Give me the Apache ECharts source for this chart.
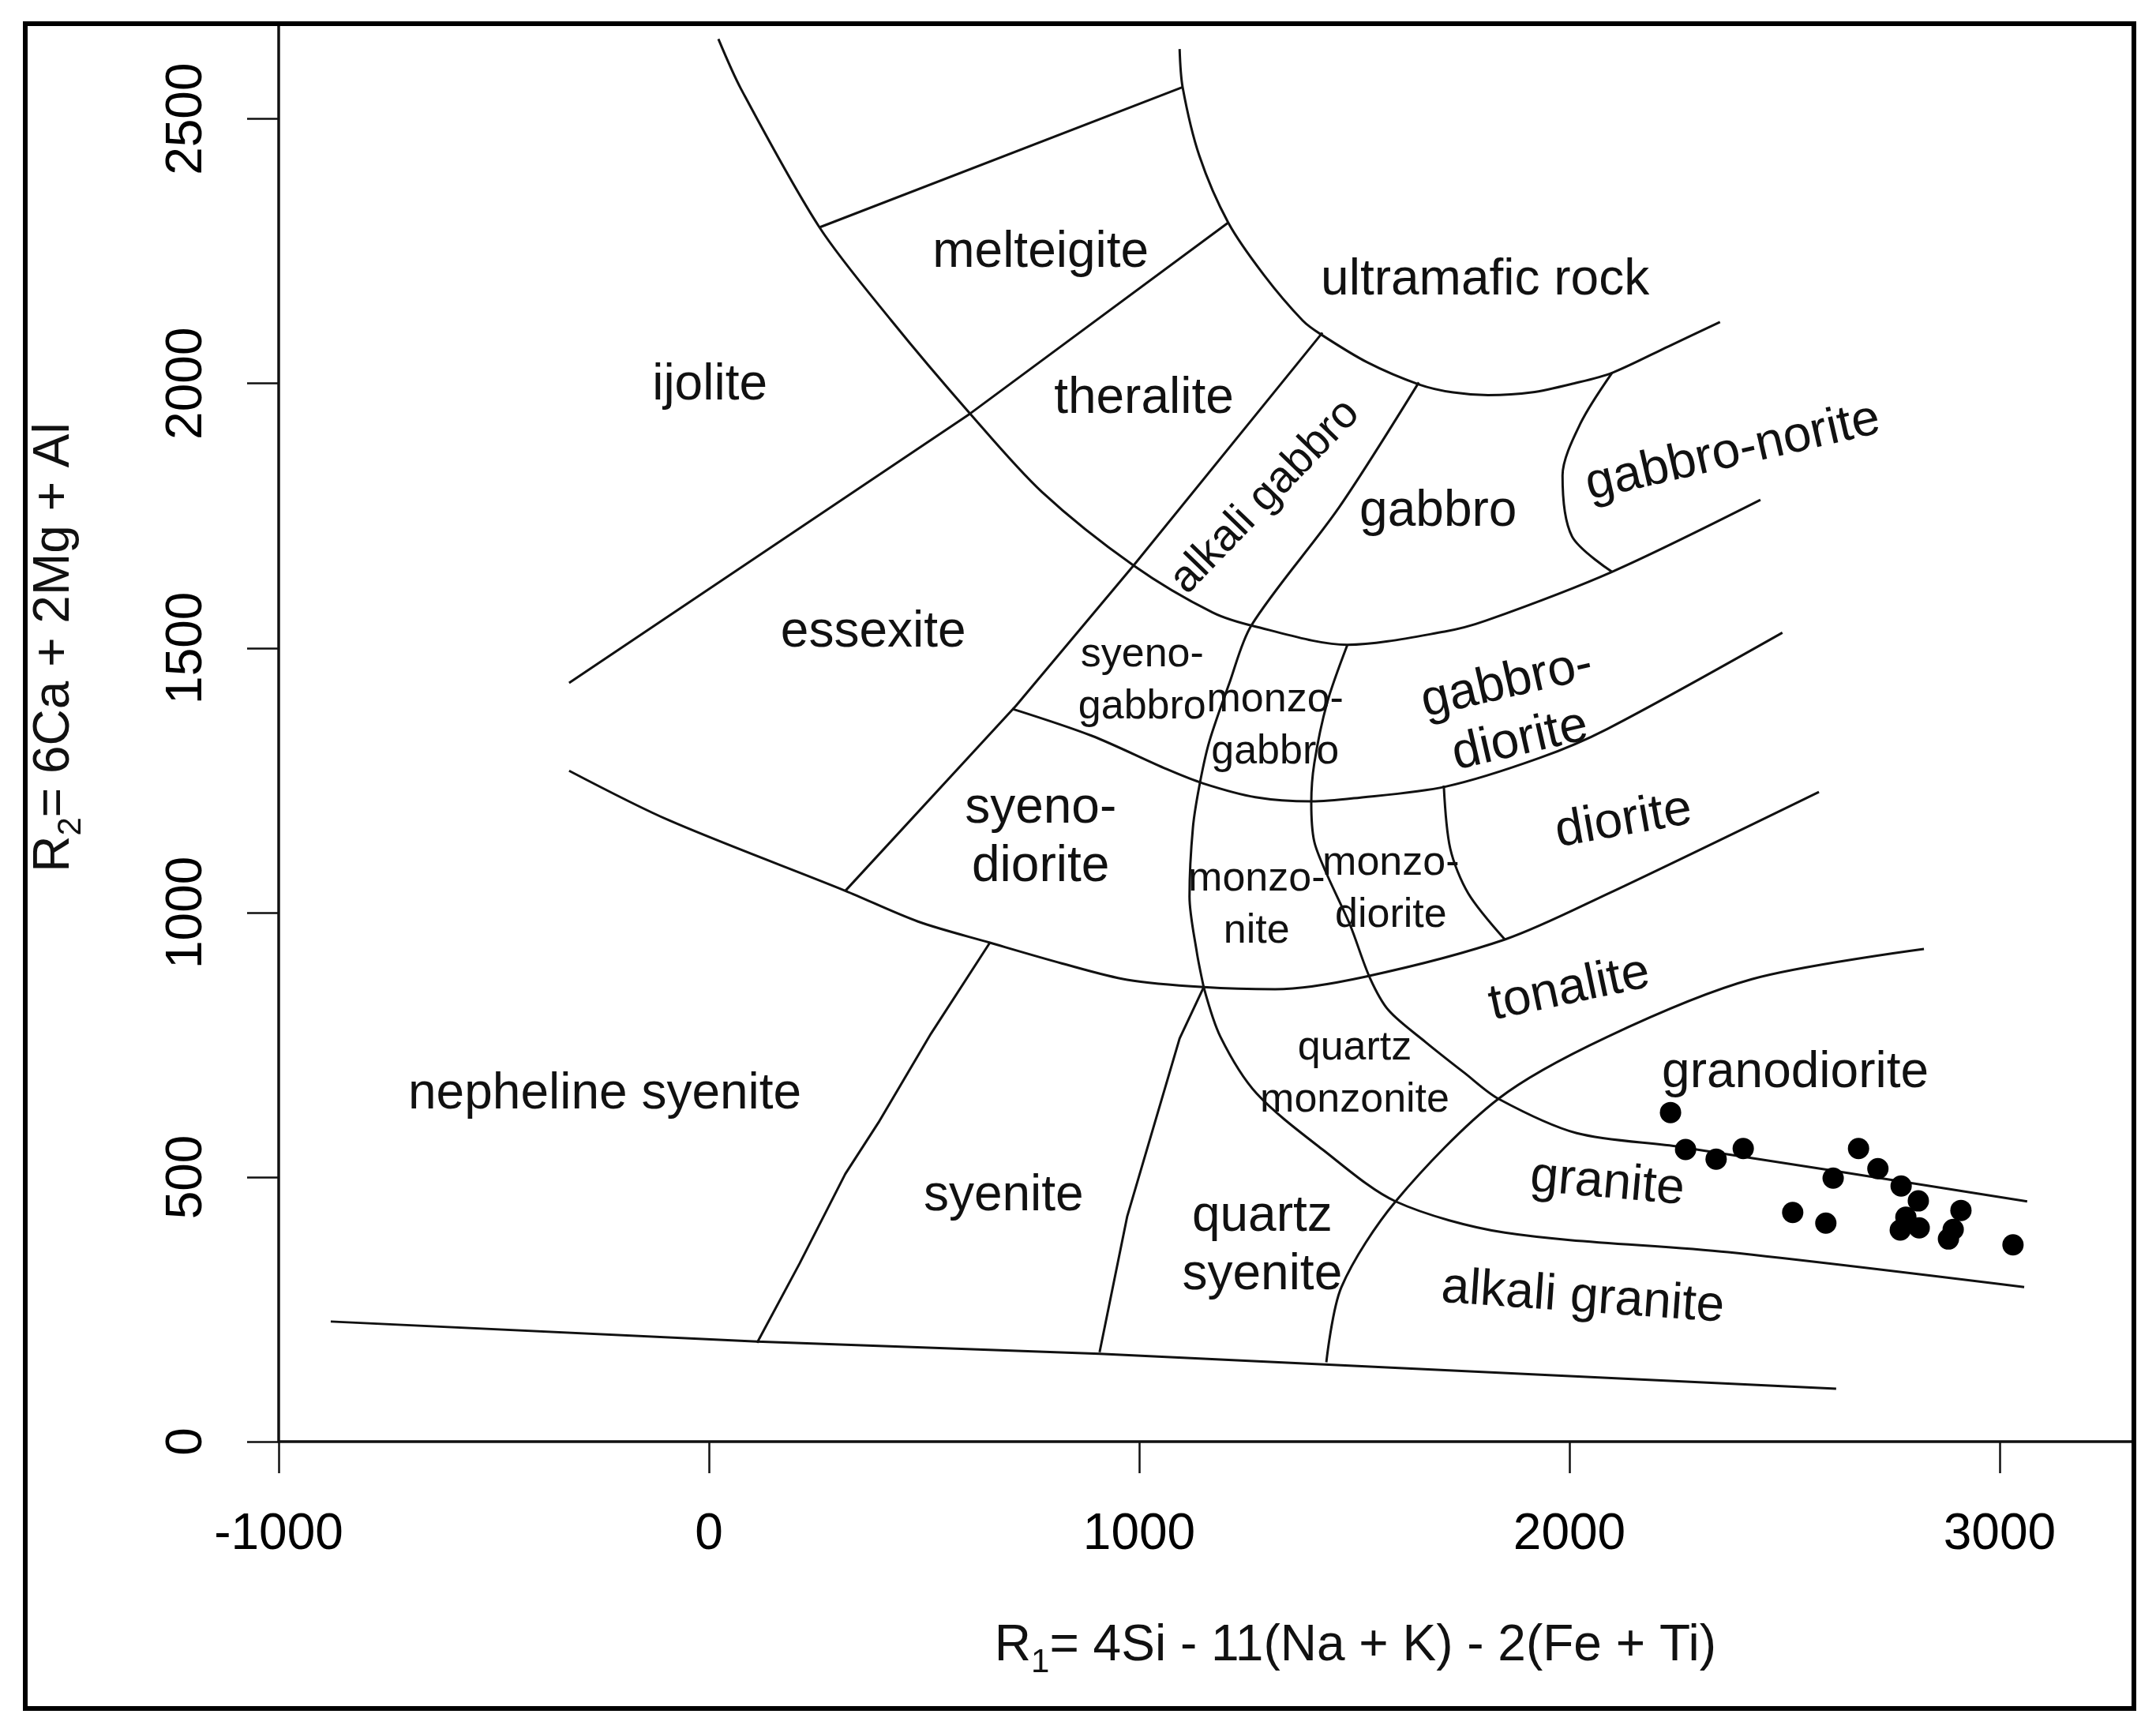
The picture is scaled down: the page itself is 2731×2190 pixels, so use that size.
<!DOCTYPE html>
<html>
<head>
<meta charset="utf-8">
<script src="https://cdn.jsdelivr.net/npm/echarts@6/dist/echarts.min.js"></script>
<style>
  html, body { margin: 0; padding: 0; background: #fff; }
  #chart { width: 2731px; height: 2190px; }
</style>
</head>
<body>
<div id="chart"></div>
<script>
const xTicks = [-1000, 0, 1000, 2000, 3000]
const yTicks = [0, 500, 1000, 1500, 2000, 2500]

// field boundaries as [R1, R2]
const ultramaficArc = [[1094, 2632], [1101, 2560], [1140, 2430], [1207, 2304], [1290, 2205], [1380, 2119], [1422, 2093], [1530, 2040], [1651, 1998], [1730, 1983], [1811, 1978], [1912, 1983], [2010, 2000], [2099, 2020], [2230, 2070], [2350, 2116]]
const outerArc = [[22, 2651], [75, 2556], [257, 2295], [424, 2119], [607, 1943], [774, 1795], [987, 1656], [1171, 1567], [1273, 1540], [1484, 1506], [1710, 1531], [1807, 1552], [2099, 1644], [2444, 1780]]
const melteigiteTop = [[257, 2295], [1101, 2560]]
const ijoliteBase = [[-325, 1434], [607, 1943], [1207, 2304]]
const alkaliGabbroLeft = [[1426, 2096], [987, 1656], [714, 1391], [317, 1041]]
const alkaliGabbroRight = [[1650, 2002], [1464, 1765], [1261, 1543], [1209, 1432], [1163, 1323], [1141, 1244], [1125, 1161], [1117, 1030], [1134, 925], [1150, 859]]
const gabbroicBase = [[705, 1385], [890, 1334], [1064, 1271], [1149, 1244], [1270, 1218], [1400, 1210], [1499, 1216], [1712, 1238], [1930, 1292], [2088, 1347], [2495, 1529]]
const dioriticBase = [[-325, 1268], [-92, 1174], [317, 1041], [486, 983], [653, 943], [820, 904], [972, 873], [1150, 859], [1316, 855], [1527, 879], [1850, 949], [2088, 1035], [2580, 1228]]
const dioriteLeft = [[1708, 1240], [1723, 1121], [1765, 1036], [1850, 949]]
const noriteLine = [[2099, 2020], [2026, 1925], [1984, 1826], [2006, 1711], [2099, 1644]]
const monzoLine = [[1484, 1506], [1437, 1397], [1407, 1282], [1400, 1207], [1407, 1134], [1437, 1071], [1490, 977], [1536, 877], [1580, 815], [1666, 755], [1756, 697], [1835, 648], [2017, 583], [2257, 557], [3064, 454]]
const alkaliGraniteTop = [[1150, 859], [1189, 765], [1273, 658], [1428, 551], [1596, 454], [1850, 395], [2369, 358], [3057, 292]]
const graniteLeft = [[1435, 150], [1470, 292], [1596, 454], [1835, 648], [2088, 765], [2424, 874], [2824, 931]]
const syeniteLeft = [[653, 943], [516, 771], [394, 603], [317, 506], [211, 337], [112, 187]]
const syeniteRight = [[1150, 859], [1094, 762], [972, 425], [908, 169]]
const baseLine = [[-879, 227], [112, 189], [908, 166], [2620, 100]]

// samples [R1, R2]
const samples = [
  [2235, 622], [2270, 552], [2341, 534], [2404, 554], [2672, 554], [2613, 498],
  [2717, 516], [2771, 483], [2811, 455], [2519, 433], [2596, 413], [2910, 437],
  [2782, 424], [2769, 400], [2813, 404], [2892, 401], [2881, 383], [3031, 372]
]

// field names and where they sit [name, R1, R2]
const fields = [
  ['ultramafic rock', 1804, 2195],
  ['melteigite', 771, 2247],
  ['ijolite', 2, 1996],
  ['theralite', 1011, 1971],
  ['alkali gabbro', 1293, 1786],
  ['gabbro', 1695, 1758],
  ['gabbro-norite', 2380, 1870],
  ['essexite', 382, 1529],
  ['syeno-\ngabbro', 1007, 1438],
  ['monzo-\ngabbro', 1316, 1352],
  ['gabbro-\ndiorite', 1870, 1379],
  ['syeno-\ndiorite', 771, 1141],
  ['monzo-\nnite', 1273, 1013],
  ['monzo-\ndiorite', 1585, 1043],
  ['diorite', 2126, 1173],
  ['tonalite', 2000, 855],
  ['nepheline syenite', -242, 656],
  ['syenite', 685, 464],
  ['quartz\nsyenite', 1286, 370],
  ['quartz\nmonzonite', 1501, 695],
  ['granodiorite', 2525, 697],
  ['granite', 2088, 488],
  ['alkali granite', 2031, 272]
]

const tilted = {
  'alkali gabbro': 46, 'gabbro-norite': 13, 'gabbro-\ndiorite': 13,
  'diorite': 10, 'tonalite': 12, 'granite': -5, 'alkali granite': -4
}
const smallNames = ['syeno-\ngabbro', 'monzo-\ngabbro', 'monzo-\nnite', 'monzo-\ndiorite', 'quartz\nmonzonite']
const mediumNames = ['alkali gabbro']

const FONT = "'Liberation Sans', Arial, sans-serif"
const INK = '#111'

function boundary(data, smooth) {
  return {
    type: 'line',
    data,
    smooth: smooth ? 0.3 : false,
    symbol: 'none',
    silent: true,
    lineStyle: { color: INK, width: 3 },
    z: 2
  }
}

const chart = echarts.init(document.getElementById('chart'), null, { renderer: 'canvas' })

chart.setOption({
  animation: false,
  backgroundColor: '#fff',
  grid: { left: 353, right: 28, top: 30, bottom: 364 },
  xAxis: {
    type: 'value',
    min: -1000,
    max: 3312,
    splitLine: { show: false },
    axisLine: { onZero: false, lineStyle: { color: '#111', width: 3.5 } },
    axisTick: { length: 40, customValues: xTicks, lineStyle: { color: '#111', width: 2.5 } },
    axisLabel: {
      customValues: xTicks,
      formatter: v => String(v),
      color: '#000', fontSize: 64, fontFamily: FONT, margin: 86
    }
  },
  yAxis: {
    type: 'value',
    min: 0,
    max: 2680,
    splitLine: { show: false },
    axisLine: { onZero: false, lineStyle: { color: '#111', width: 3.5 } },
    axisTick: { length: 40, customValues: yTicks, lineStyle: { color: '#111', width: 2.5 } },
    axisLabel: {
      customValues: yTicks,
      formatter: v => String(v),
      rotate: 90, color: '#000', fontSize: 64, fontFamily: FONT, margin: 84
    }
  },
  series: [
    boundary(ultramaficArc, true),
    boundary(outerArc, true),
    boundary(melteigiteTop, false),
    boundary(ijoliteBase, false),
    boundary(alkaliGabbroLeft, false),
    boundary(alkaliGabbroRight, true),
    boundary(gabbroicBase, true),
    boundary(dioriticBase, true),
    boundary(dioriteLeft, true),
    boundary(noriteLine, true),
    boundary(monzoLine, true),
    boundary(alkaliGraniteTop, true),
    boundary(graniteLeft, true),
    boundary(syeniteLeft, false),
    boundary(syeniteRight, false),
    boundary(baseLine, false),
    {
      type: 'scatter',
      silent: true,
      symbolSize: 0,
      z: 3,
      itemStyle: { opacity: 1 },
      label: {
        show: true,
        position: 'inside',
        formatter: '{b}',
        color: INK,
        fontFamily: FONT
      },
      data: fields.map(([name, x, y]) => {
        const small = smallNames.includes(name)
        const medium = mediumNames.includes(name)
        return {
          name,
          value: [x, y],
          label: {
            rotate: tilted[name] || 0,
            fontSize: small ? 52 : medium ? 56 : 64,
            lineHeight: small ? 66 : 74
          }
        }
      })
    },
    {
      type: 'scatter',
      symbol: 'circle',
      symbolSize: 27,
      silent: true,
      z: 5,
      itemStyle: { color: '#000', opacity: 1 },
      data: samples
    }
  ],
  graphic: [
    {
      type: 'rect',
      z: 100,
      silent: true,
      shape: { x: 32, y: 30, width: 2671, height: 2134 },
      style: { fill: 'none', stroke: '#000', lineWidth: 6 }
    },
    {
      type: 'text',
      x: 1717,
      y: 2085,
      silent: true,
      style: {
        text: '{n|R}{s|1}{n|= 4Si - 11(Na + K) - 2(Fe + Ti)}',
        align: 'center',
        verticalAlign: 'middle',
        rich: {
          n: { fontSize: 64, fontFamily: FONT, fill: INK, lineHeight: 84 },
          s: { fontSize: 42, fontFamily: FONT, fill: INK, lineHeight: 46, verticalAlign: 'bottom' }
        }
      }
    },
    {
      type: 'text',
      x: 69,
      y: 820,
      rotation: Math.PI / 2,
      silent: true,
      style: {
        text: '{n|R}{s|2}{n|= 6Ca + 2Mg + Al}',
        align: 'center',
        verticalAlign: 'middle',
        rich: {
          n: { fontSize: 64, fontFamily: FONT, fill: INK, lineHeight: 84 },
          s: { fontSize: 42, fontFamily: FONT, fill: INK, lineHeight: 46, verticalAlign: 'bottom' }
        }
      }
    }
  ]
})
</script>
</body>
</html>
